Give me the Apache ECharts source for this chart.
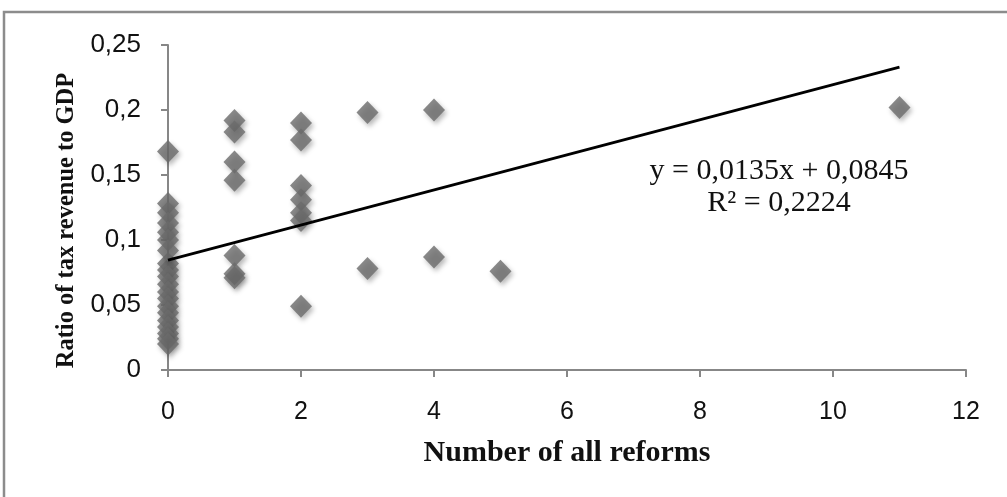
<!DOCTYPE html>
<html>
<head>
<meta charset="utf-8">
<script src="https://cdn.jsdelivr.net/npm/echarts@6/dist/echarts.min.js"></script>
<style>
html,body{margin:0;padding:0;background:#fff;}
#c{width:1007px;height:497px;}
</style>
</head>
<body>
<div id="c"></div>
<script>
// Number of all reforms (x) and ratio of tax revenue to GDP (y)
const reforms = [
  0,0,0,0,0,0,
  0,0,0,0,0,0,0,0,0,0,0,0,0,0,
  1,1,1,1,1,1,1,
  2,2,2,2,2,2,2,
  3,3,
  4,4,
  5,
  11
];
const taxRatio = [
  0.168,0.128,0.121,0.113,0.106,0.100,
  0.082,0.077,0.072,0.066,0.060,0.055,0.049,0.044,0.038,0.033,0.028,0.024,0.020,0.092,
  0.192,0.183,0.160,0.146,0.088,0.074,0.071,
  0.190,0.177,0.142,0.131,0.121,0.115,0.049,
  0.198,0.078,
  0.200,0.087,
  0.076,
  0.202
];
// Linear trend line end points (y = 0,0135x + 0,0845)
const trendX = [0, 11];
const trendY = [0.0845, 0.2330];
const equationText = ['y = 0,0135x + 0,0845', 'R² = 0,2224'];
const xTicks = [0, 2, 4, 6, 8, 10, 12];
const yTicks = [0, 0.05, 0.1, 0.15, 0.2, 0.25];

const points = reforms.map((x, i) => [x, taxRatio[i]]);
const trend = trendX.map((x, i) => [x, trendY[i]]);

const chart = echarts.init(document.getElementById('c'));
const axisGray = '#878787';
const labelFont = '"Liberation Sans", Arial, sans-serif';
const titleFont = '"Liberation Serif", "Times New Roman", serif';

chart.setOption({
  animation: false,
  backgroundColor: '#ffffff',
  grid: {left: 168, right: 41, top: 45, bottom: 127},
  xAxis: {
    type: 'value', min: 0, max: 12, interval: 2,
    name: 'Number of all reforms',
    nameLocation: 'middle', nameGap: 68,
    nameTextStyle: {fontFamily: titleFont, fontWeight: 'bold', fontSize: 30, color: '#111'},
    axisLine: {show: true, lineStyle: {color: axisGray, width: 2}},
    axisTick: {show: true, length: 7, lineStyle: {color: axisGray, width: 2}},
    splitLine: {show: false},
    axisLabel: {fontFamily: labelFont, fontSize: 25, color: '#111', margin: 30}
  },
  yAxis: {
    type: 'value', min: 0, max: 0.25, interval: 0.05,
    name: 'Ratio of tax revenue to GDP',
    nameLocation: 'middle', nameGap: 89, nameRotate: 90,
    nameTextStyle: {fontFamily: titleFont, fontWeight: 'bold', fontSize: 24.5, color: '#111', padding: [0, 26, 0, 0]},
    axisLine: {show: true, lineStyle: {color: axisGray, width: 2}},
    axisTick: {show: true, length: 7, lineStyle: {color: axisGray, width: 2}},
    splitLine: {show: false},
    axisLabel: {
      fontFamily: labelFont, fontSize: 26, color: '#111', margin: 27,
      formatter: v => String(Math.round(v * 100) / 100).replace('.', ',')
    }
  },
  series: [
    {
      type: 'scatter', data: points, symbol: 'diamond', symbolSize: [22, 23],
      itemStyle: {color: '#6b6b6b', shadowColor: 'rgba(0,0,0,0.35)', shadowBlur: 5, shadowOffsetX: 2, shadowOffsetY: 3},
      z: 2
    },
    {
      type: 'line', data: trend, symbol: 'none',
      lineStyle: {color: '#000', width: 2.8}, z: 3
    }
  ],
  graphic: [
    {type: 'rect', shape: {x: 4, y: 12, width: 1200, height: 700}, style: {fill: 'none', stroke: '#8c8c8c', lineWidth: 2.5}, silent: true},
    {type: 'text', x: 779, y: 171, style: {text: equationText[0], font: '30px "Liberation Serif", serif', fill: '#111', textAlign: 'center', textVerticalAlign: 'middle'}},
    {type: 'text', x: 779, y: 203, style: {text: equationText[1], font: '30px "Liberation Serif", serif', fill: '#111', textAlign: 'center', textVerticalAlign: 'middle'}}
  ]
});
</script>
</body>
</html>
